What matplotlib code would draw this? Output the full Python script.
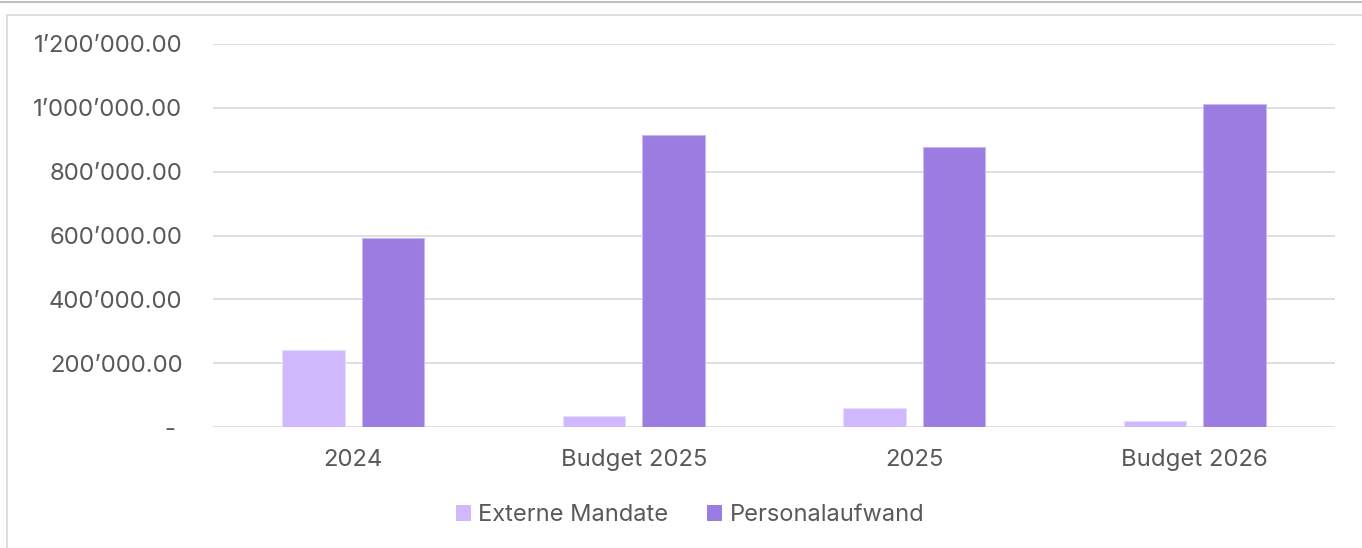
import matplotlib
matplotlib.use("Agg")
import matplotlib.pyplot as plt
import numpy as np
from matplotlib.patches import Rectangle, Patch
from matplotlib.ticker import FixedLocator, FixedFormatter

plt.rcParams['font.family'] = ['Inter', 'DejaVu Sans']

categories = ["2024", "Budget 2025", "2025", "Budget 2026"]
externe_mandate = [241000, 33000, 60000, 20000]
personalaufwand = [591500, 916000, 877000, 1011000]
series_names = ["Externe Mandate", "Personalaufwand"]
y_ticks = [0, 200000, 400000, 600000, 800000, 1000000, 1200000]
y_tick_labels = ["- ", "200\u2019000.00", "400\u2019000.00", "600\u2019000.00",
                 "800\u2019000.00", "1\u2019000\u2019000.00", "1\u2019200\u2019000.00"]

c_light = "#CFB9FC"
c_dark = "#9B7CE0"
text_col = "#595959"
grid_col = "#D9D9D9"
fs = 17.2
fs_leg = 17.0

W, H = 1362, 548
fig = plt.figure(figsize=(W / 100, H / 100), dpi=100)
fig.patch.set_facecolor("white")

# outer frame lines
fig.add_artist(plt.Line2D([0, 1], [1 - 2 / H, 1 - 2 / H], transform=fig.transFigure,
                          color="#BFBFBF", lw=1.5))
fig.add_artist(Rectangle((7 / W, -0.05), 1.2, 1 - 15 / H + 0.05, transform=fig.transFigure,
                         fill=False, edgecolor="#D9D9D9", lw=1.2))

ax = fig.add_axes([213 / W, (H - 427) / H, (1335 - 213) / W, (427 - 44) / H])
x = np.arange(len(categories))
bw = 0.223
off = 0.1425
ax.bar(x - off, externe_mandate, bw, color=c_light, edgecolor="#E6DCFE", linewidth=0.8,
       label=series_names[0], zorder=3)
ax.bar(x + off, personalaufwand, bw, color=c_dark, edgecolor="#C9B8F4", linewidth=0.8,
       label=series_names[1], zorder=3)

ax.set_xlim(-0.5, 3.5)
ax.set_ylim(0, 1200000)
ax.yaxis.set_major_locator(FixedLocator(y_ticks))
ax.yaxis.set_major_formatter(FixedFormatter(y_tick_labels))
ax.set_xticks(x)
ax.set_xticklabels(categories)
for s in ax.spines.values():
    s.set_visible(False)
ax.grid(axis="y", color=grid_col, lw=1.2, zorder=0)
ax.set_axisbelow(True)
ax.tick_params(axis="both", length=0, labelsize=fs, labelcolor=text_col)
ax.tick_params(axis="y", pad=22)
ax.tick_params(axis="x", pad=16)

handles = [Patch(facecolor=c_light, edgecolor="none"), Patch(facecolor=c_dark, edgecolor="none")]
fig.legend(handles, series_names, loc="center", bbox_to_anchor=(690 / W, (H - 515) / H),
           ncol=2, frameon=False, fontsize=fs_leg, labelcolor=text_col,
           handlelength=0.64, handleheight=0.64, handletextpad=0.3, columnspacing=1.65)

fig.savefig("out.png", dpi=100, facecolor="white")
